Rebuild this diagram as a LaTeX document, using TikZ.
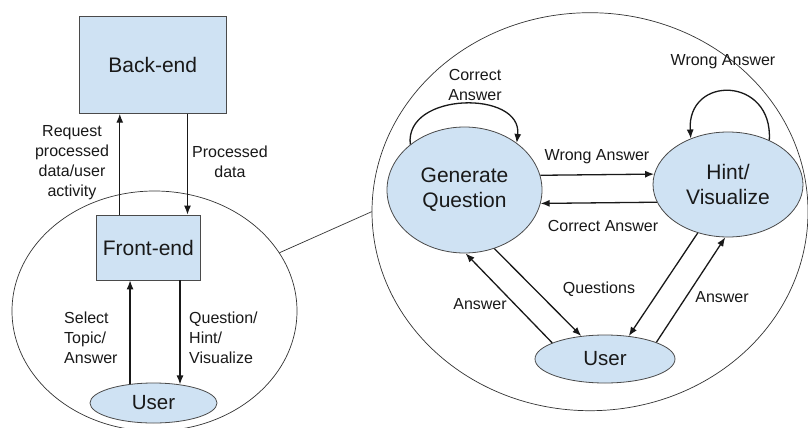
\documentclass[tikz,border=0pt]{standalone}
\usepackage{fontspec}
\setmainfont{Liberation Sans}
\usetikzlibrary{shapes.geometric,arrows.meta,calc}
\definecolor{paleblue}{HTML}{CFE2F3}
\definecolor{edgegray}{HTML}{4A4A4A}

\begin{document}
\begin{tikzpicture}[x=1pt,y=-1pt,
  box/.style={draw=edgegray, fill=paleblue, line width=0.8pt, inner sep=0pt,
    font=\fontsize{21}{25}\selectfont, text=black!90},
  state/.style={ellipse, draw=edgegray, fill=paleblue, line width=0.8pt, inner sep=0pt,
    font=\fontsize{21}{25}\selectfont, align=center, text=black!90},
  region/.style={ellipse, draw=black!80, line width=0.7pt, inner sep=0pt},
  arr/.style={-{Latex[length=9pt,width=7pt]}, line width=1.3pt, black!90},
  lbl/.style={font=\fontsize{16}{20}\selectfont, align=center, text=black!90, inner sep=0pt},
]
\useasboundingbox (0,0) rectangle (808,428);
\fill[white] (0,0) rectangle (808,428);

% enclosing regions and the zoom line between them
\node[region, minimum width=285, minimum height=240] (lc) at (154.5,311) {};
\node[region, minimum width=436, minimum height=398] (bc) at (590,211.7) {};
\draw[black!80, line width=0.7pt] (lc.25.7) -- (bc.west);

% left side: system overview
\node[box, minimum width=146.7, minimum height=96.6] (be) at (152.7,65) {Back-end};
\node[box, minimum width=103.3, minimum height=65] (fe) at (148.3,247.5) {Front-end};
\node[state, minimum width=127, minimum height=40, font=\fontsize{20.5}{24}\selectfont] (user1) at (153.5,403) {User};

\draw[arr] ($(fe.north west)!0.226!(fe.north east)$) coordinate (reqfoot) -- (reqfoot |- be.south);
\draw[arr] ($(be.south west)!0.736!(be.south east)$) coordinate (datafoot) -- (datafoot |- fe.north);
\draw[arr] (user1.141.6) -- (user1.141.6 |- fe.south);
\draw[arr] (fe.south -| user1.35.7) -- (user1.35.7);

\node[lbl] (reqlbl) at (72,163) {Request\\processed\\data/user\\activity};
\node[lbl] (datalbl) at (230,162) {Processed\\data};
\node[lbl, anchor=west, align=left] (sellbl) at (64,338) {Select\\Topic/\\Answer};
\node[lbl, anchor=west, align=left] (qlbl) at (189,338) {Question/\\Hint/\\Visualize};

% right side: interaction states
\node[state, minimum width=155, minimum height=126] (gq) at (464.5,190) {Generate\\Question};
\node[state, minimum width=150, minimum height=105] (hv) at (728,184.5) {Hint/\\Visualize};
\node[state, minimum width=140, minimum height=48, font=\fontsize{20.5}{24}\selectfont] (user2) at (605,359) {User};

\draw[arr] (gq.11.3) -- (hv.172.6);
\draw[arr] (hv.194.8) -- (gq.350.2);
\draw[arr] (gq.140) .. controls +(-6,-53) and +(6,-53) .. (gq.42);
\draw[arr] (hv.47) .. controls +(4,-64) and +(-4,-64) .. (hv.129);
\draw[arr] (user2.163) -- (gq.271);
\draw[arr] (gq.297.7) -- (user2.136);
\draw[arr] (hv.238.5) -- (user2.44);
\draw[arr] (user2.18) -- (hv.267);

\node[lbl] (gqloop) at (475,85) {Correct\\Answer};
\node[lbl] (hvloop) at (723,62) {Wrong Answer};
\node[lbl] (wronglbl) at (597,157) {Wrong Answer};
\node[lbl] (correctlbl) at (603,226) {Correct Answer};
\node[lbl] (queslbl) at (599,289) {Questions};
\node[lbl] (ans1) at (480,304) {Answer};
\node[lbl] (ans2) at (722,297) {Answer};
\end{tikzpicture}
\end{document}
